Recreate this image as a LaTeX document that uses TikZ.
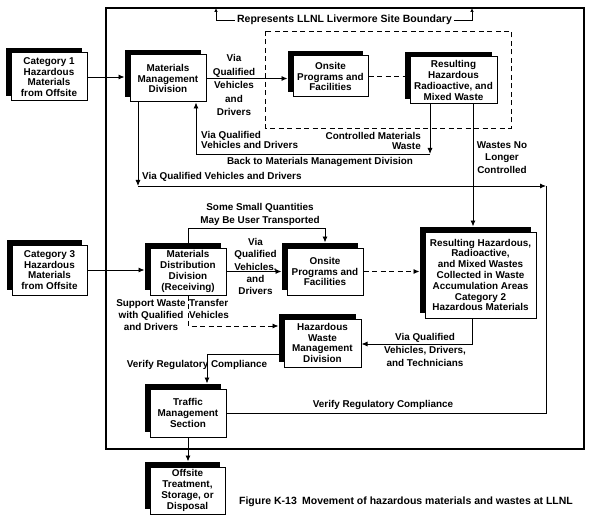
\documentclass[tikz,border=0pt]{standalone}
\usepackage{fontspec}
\setmainfont{Liberation Sans}
\usetikzlibrary{arrows.meta,calc,shadows}

\begin{document}
\begin{tikzpicture}[x=1pt,y=-1pt]
\tikzstyle{txt} 	= [font=\fontsize{9.9}{10.8}\selectfont\bfseries, align=center, inner sep=0pt] % standard text
\tikzstyle{bigtxt} 	= [txt, font=\fontsize{10.5}{11}\selectfont\bfseries] % header and caption
\tikzstyle{arrow} 	= [line width=0.9pt, -{Latex[length=6pt,width=5pt]}] % define standard arrow
\tikzstyle{line} 	= [line width=0.9pt]
\tikzstyle{dline} 	= [line width=0.9pt, dash pattern=on 5pt off 3.5pt] % dashed line
\tikzstyle{toshadow} = [shorten >=5pt] % stop at the shadow edge
\tikzstyle{block} 	= [txt, draw, fill=white, line width=1pt, drop shadow={shadow xshift=-5pt, shadow yshift=5pt, opacity=1, fill=black}] % define block

\useasboundingbox (0,0) rectangle (600,524);

% site boundary and onsite area
\node(SITE)[draw, line width=1.9pt, minimum width=478pt, minimum height=441pt, inner sep=0pt] at (345,228.5){};
\draw[dline] (265,31) rectangle (511,128);
\node(RP)[bigtxt, inner sep=2pt] at (344.5,20){Represents LLNL Livermore Site Boundary};
\coordinate(BL) at (216,8);
\coordinate(BR) at (472,8);
\draw[line, line width=0.7pt, -{Latex[length=4pt,width=3.5pt]}] (RP.west) -| (BL);
\draw[line, line width=0.7pt, -{Latex[length=4pt,width=3.5pt]}] (RP.east) -| (BR);

% upper part
\node(CAT1)[block, minimum width=76pt, minimum height=48pt] at (49,77){Category 1\\Hazardous\\Materials\\from Offsite};
\node(MMD)[block, minimum width=76pt, minimum height=47pt] at (168,78.5){Materials\\Management\\Division};
\node(ONS1)[block, minimum width=75pt, minimum height=41pt] at (330.5,76.5){Onsite\\Programs and\\Facilities};
\node(RES1)[block, minimum width=87pt, minimum height=47pt] at (453.5,80.5){Resulting\\Hazardous\\Radioactive, and\\Mixed Waste};

% lower part
\node(CAT3)[block, minimum width=75pt, minimum height=50pt] at (49.5,270){Category 3\\Hazardous\\Materials\\from Offsite};
\node(MDD)[block, minimum width=76pt, minimum height=47pt] at (188,271.5){Materials\\Distribution\\Division\\(Receiving)};
\node(ONS2)[block, minimum width=76pt, minimum height=47pt] at (325,271.5){Onsite\\Programs and\\Facilities};
\node(RES2)[block, minimum width=111pt, minimum height=86pt] at (480.5,275){Resulting Hazardous,\\Radioactive,\\and Mixed Wastes\\Collected in Waste\\Accumulation Areas\\Category 2\\Hazardous Materials};
\node(HWMD)[block, minimum width=77pt, minimum height=48pt] at (322.5,343){Hazardous\\Waste\\Management\\Division};
\node(TMS)[block, minimum width=76pt, minimum height=48pt] at (188,413){Traffic\\Management\\Section};
\node(OFF)[block, minimum width=75pt, minimum height=47pt] at (187.5,490.5){Offsite\\Treatment,\\Storage, or\\Disposal};

% connectors, upper part
\draw[arrow, toshadow] (CAT1.east) -- (CAT1.east -| MMD.west);
\draw[arrow, toshadow] (MMD.east) -- (MMD.east -| ONS1.west);
\draw[dline, shorten >=5pt] (ONS1.east) -- (ONS1.east -| RES1.west);
\coordinate(CW) at (430,154);
\coordinate(BK) at (196,154);
\draw[arrow] (RES1.south -| CW) -- (CW);
\draw[arrow] (CW) -- (BK) -- (BK |- MMD.south);
\coordinate(VQ) at (138,186);
\coordinate(VR) at (546,186);
\draw[arrow] (MMD.south -| VQ) -- (VQ);
\draw[arrow] (VQ) -- (VR);
\draw[line] (VR) -- (VR |- TMS.east) -- (TMS.east);
\coordinate(WN) at (473,150);
\draw[arrow, toshadow] (RES1.south -| WN) -- (RES2.north -| WN);

% connectors, lower part
\draw[arrow, toshadow] (CAT3.east) -- (CAT3.east -| MDD.west);
\draw[arrow, toshadow] (MDD.east) -- (MDD.east -| ONS2.west);
\draw[arrow, toshadow] (MDD.north) -- ++(0,-19) -| (ONS2.north);
\draw[dline, -{Latex[length=6pt,width=5pt]}, toshadow] (ONS2.east) -- (ONS2.east -| RES2.west);
\coordinate(VT) at (472,344);
\draw[arrow] (RES2.south -| VT) -- (VT) -- (VT -| HWMD.east);
\coordinate(SW) at (188,326);
\draw[dline, -{Latex[length=6pt,width=5pt]}, toshadow] (MDD.south) -- (SW) -- (SW -| HWMD.west);
\coordinate(VC) at (207,354);
\draw[arrow, toshadow] (VC -| HWMD.west) -- (VC) -- (VC |- TMS.north);
\draw[arrow, toshadow] (TMS.south) -- (TMS.south |- OFF.north);

% connector labels
\node(L1)[txt] at (234,85){Via\\[2.7pt]Qualified\\[2.7pt]Vehicles\\[2.7pt]and\\[2.7pt]Drivers};
\node(L2)[txt, align=left, anchor=west] at (201,140){Via Qualified\\Vehicles and Drivers};
\node(L3)[txt, align=right, anchor=east] at (421,141){Controlled Materials\\Waste};
\node(L4)[txt] at (320,162){Back to Materials Management Division};
\node(L5)[txt, anchor=west] at (142,177){Via Qualified Vehicles and Drivers};
\node(L6)[txt] at (502,157.5){Wastes No\\[1.7pt]Longer\\[1.7pt]Controlled};
\node(L7)[txt] at (260,214.5){Some Small Quantities\\[2.2pt]May Be User Transported};
\node(L8)[txt] at (255.5,266.5){Via\\[1.5pt]Qualified\\[1.5pt]Vehicles,\\[1.5pt]and\\[1.5pt]Drivers};
\node(L9)[txt] at (151,315){Support Waste\\[1.2pt]with Qualified\\[1.2pt]and Drivers};
\node(L10)[txt, align=left, anchor=west] at (189,309){Transfer\\[1.2pt]Vehicles};
\node(L11)[txt] at (425,350){Via Qualified\\[2.2pt]Vehicles, Drivers,\\[2.2pt]and Technicians};
\node(L12)[txt] at (197,365){Verify Regulatory Compliance};
\node(L13)[txt] at (383,405){Verify Regulatory Compliance};
\node(CAP)[bigtxt] at (406,502){Figure K-13\enspace Movement of hazardous materials and wastes at LLNL};
\end{tikzpicture}
\end{document}
